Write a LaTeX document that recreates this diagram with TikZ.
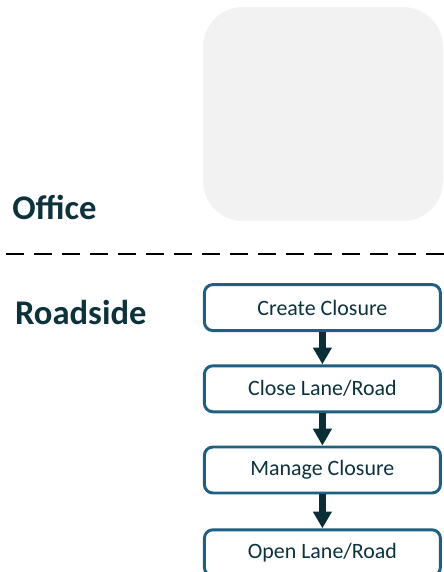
\documentclass[tikz,border=0pt]{standalone}
\usepackage{fontspec}
\setmainfont{Carlito}
\usepackage{xcolor}
\usetikzlibrary{shapes, arrows.meta, positioning}

\definecolor{laneblue}{RGB}{31,96,128}
\definecolor{darkteal}{RGB}{12,50,60}
\definecolor{arrowteal}{RGB}{10,46,54}
\definecolor{officegray}{RGB}{242,242,242}

\begin{document}
\begin{tikzpicture}[
    stepbox/.style={draw=laneblue, line width=2.1pt, rounded corners=6pt, fill=white,
        minimum width=5.9cm, minimum height=1.15cm, text=darkteal, font=\fontsize{15.6}{18}\selectfont},
    zone/.style={anchor=base west, text=darkteal, font=\fontsize{24.6}{28}\selectfont\bfseries, inner sep=0pt},
    flow/.style={draw=arrowteal, line width=5.5pt, -{Triangle[width=0.45cm, length=0.42cm]}}
]
        \useasboundingbox (0,0) rectangle (11.075,-14.3);

        % Office area
        \node[fill=officegray, rounded corners=1cm, minimum width=6cm, minimum height=5.35cm] (office) at (8.075,-2.85) {};
        \node[zone] (officelbl) at (0.3,-5.5) {Office};

        % Divider
        \coordinate (divL) at (0.15,-6.35);
        \coordinate (divR) at (11.2,-6.35);
        \draw[line width=2.1pt, dash pattern=on 0.45cm off 0.25cm] (divL) -- (divR);

        % Roadside
        \node[zone] (roadlbl) at (0.37,-8.12) {Roadside};

        % Boxes
        \node[stepbox] (create) at (8.06,-7.69) {Create Closure};
        \node[stepbox] (close) at (8.06,-9.72) {Close Lane/Road};
        \node[stepbox] (manage) at (8.06,-11.75) {Manage Closure};
        \node[stepbox] (open) at (8.06,-13.82) {Open Lane/Road};

        % Arrows
        \draw[flow] (create) -- (close);
        \draw[flow] (close) -- (manage);
        \draw[flow] (manage) -- (open);
    \end{tikzpicture}
\end{document}
